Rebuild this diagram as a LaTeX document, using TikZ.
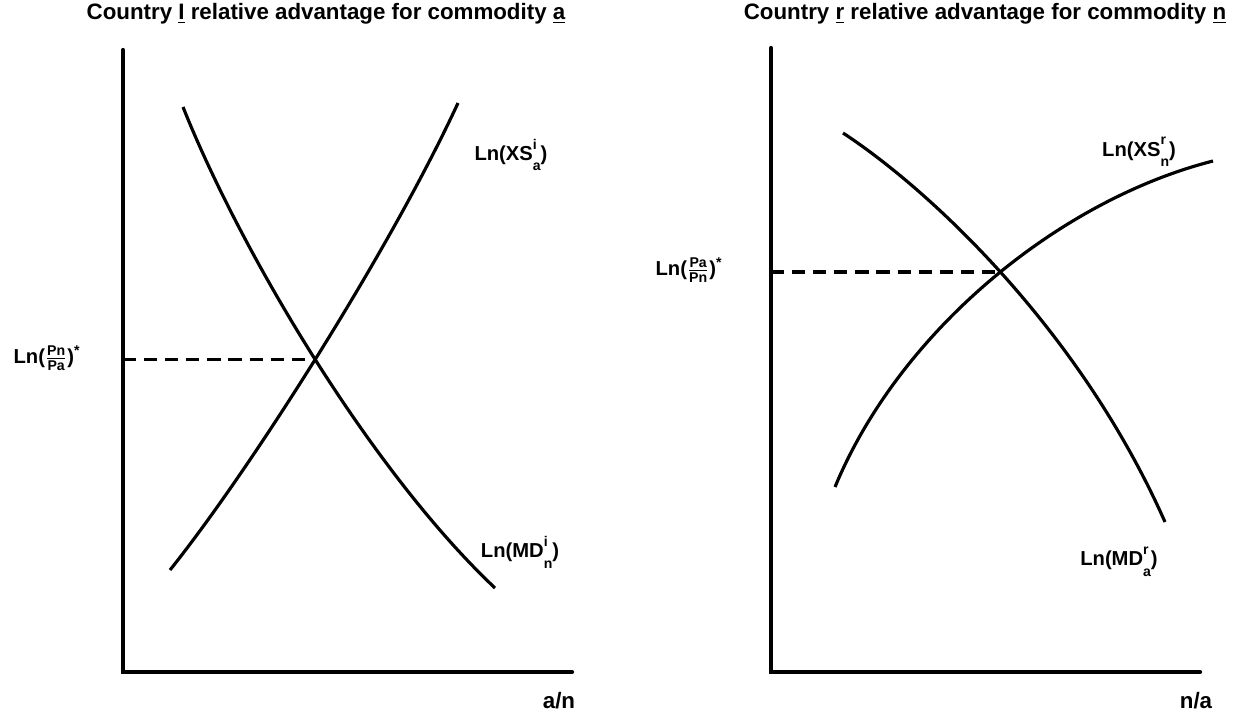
\documentclass[tikz,border=0pt]{standalone}
\usepackage{amsmath}
\usepackage{fontspec}
\setmainfont{Liberation Sans}
\usetikzlibrary{intersections}
\newcommand\supsub[2]{\makebox[0pt][l]{\raisebox{1.05ex}{\fontsize{8}{9}\selectfont#1}}\raisebox{-1.0ex}{\fontsize{8}{9}\selectfont#2}}

\begin{document}
\begin{tikzpicture}[x=0.02cm,y=-0.02cm,
    every node/.style={font=\fontsize{11.5}{13}\selectfont\bfseries},
    title/.style={font=\fontsize{12.7}{15}\selectfont\bfseries},
    axis/.style={line width=2.4pt,line cap=round},
    curve/.style={line width=1.8pt},
    guide/.style={line width=2pt,dash pattern=on 7.5pt off 4.5pt}]
  \useasboundingbox (0,0) rectangle (1250,713);
  % left panel: country i
  \node[title] (ltitle) at (326,14) {Country \underline{I} relative advantage for commodity \underline{a}};
  \coordinate (lo) at (123,672);
  \draw[axis] (123,50) -- (lo) -- (572,672);
  \draw[curve,name path=xsi] (170,570) .. controls (250,470) and (390,250) .. (458,103);
  \draw[curve,name path=mdi] (183,107) .. controls (240,250) and (370,470) .. (495,588);
  \path[name intersections={of=xsi and mdi,by=eqi}];
  \draw[guide] (eqi -| lo) -- (eqi);
  \node (pl) at (47,358) {Ln($\frac{\text{Pn}}{\text{Pa}}$)\textsuperscript{*}};
  \node (xsil) at (511,155) {Ln(XS\supsub{i}{a})};
  \node (mdil) at (520,552) {Ln(MD\supsub{i}{n})};
  \node[title] (an) at (559,701) {a/n};
  % right panel: country r
  \node[title] (rtitle) at (985,14) {Country \underline{r} relative advantage for commodity \underline{n}};
  \coordinate (ro) at (771,672);
  \draw[axis] (771,48) -- (ro) -- (1200,672);
  \draw[curve,name path=xsr] (835,487) .. controls (900,330) and (1060,200) .. (1213,161);
  \draw[curve,name path=mdr] (843,133) .. controls (930,190) and (1080,330) .. (1165,522);
  \path[name intersections={of=xsr and mdr,by=eqr}];
  \draw[guide] (eqr -| ro) -- (eqr);
  \node (pr) at (689,270) {Ln($\frac{\text{Pa}}{\text{Pn}}$)\textsuperscript{*}};
  \node (xsrl) at (1139,152) {Ln(XS\supsub{r}{n})};
  \node (mdrl) at (1119,562) {Ln(MD\supsub{r}{a})};
  \node[title] (na) at (1196,701) {n/a};
\end{tikzpicture}
\end{document}
